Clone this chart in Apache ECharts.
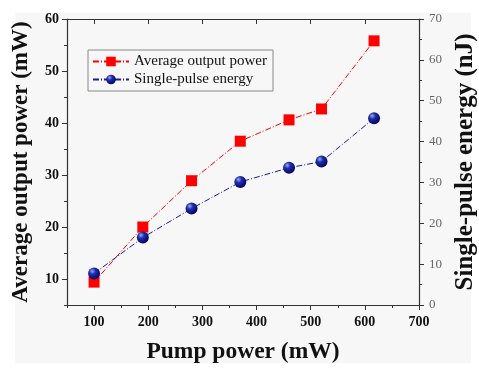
<!DOCTYPE html>
<html><head><meta charset="utf-8">
<script src="https://cdn.jsdelivr.net/npm/echarts@6/dist/echarts.min.js"></script>
<style>html,body{margin:0;padding:0;background:#fff}#c{width:479px;height:368px}</style>
</head><body><div id="c"></div>
<script>
const pumpPower = [100, 190, 280, 370, 460, 520, 617];
const avgPower = [9.4, 20.0, 28.9, 36.5, 40.6, 42.7, 55.8];
const pulseEnergy = [7.7, 16.5, 23.6, 30.1, 33.6, 35.1, 45.7];
const xTicks = [100, 200, 300, 400, 500, 600, 700];
const leftTicks = [10, 20, 30, 40, 50, 60];

const serif = 'Liberation Serif, Times New Roman, serif';
const chart = echarts.init(document.getElementById('c'), null, {renderer: 'canvas'});
const axisLine = {show: true, lineStyle: {color: '#333', width: 1.2}};
chart.setOption({
  backgroundColor: '#fff',
  animation: false,
  graphic: [{type: 'rect', z: -10, shape: {x: 15, y: 13, width: 456, height: 350}, style: {fill: '#f7f7f7'}}],
  grid: {left: 67, right: 60, top: 19, bottom: 63, show: false, containLabel: false, outerBoundsMode: 'none'},
  legend: {
    left: 88, top: 50, orient: 'vertical', itemGap: 3, itemWidth: 36, itemHeight: 12,
    padding: [4, 6, 4, 4], borderColor: '#888', borderWidth: 1, backgroundColor: '#f7f7f7',
    textStyle: {fontFamily: serif, fontSize: 15, color: '#111'},
    data: ['Average output power', 'Single-pulse energy']
  },
  xAxis: [
    {type: 'value', min: 50, max: 700, position: 'bottom', axisLine,
     splitLine: {show: false},
     axisTick: {show: true, customValues: xTicks, length: 5, lineStyle: {color: '#333'}},
     axisLabel: {customValues: xTicks, fontFamily: serif, fontWeight: 'bold', fontSize: 14, color: '#111', margin: 10},
     name: 'Pump power (mW)', nameLocation: 'middle', nameGap: 35,
     nameTextStyle: {fontFamily: serif, fontWeight: 'bold', fontSize: 23.5, color: '#111'}},
    {type: 'value', min: 50, max: 700, interval: 50, position: 'bottom', axisLine: {show: false},
     splitLine: {show: false}, axisTick: {show: true, length: 3, lineStyle: {color: '#333'}}, axisLabel: {show: false}},
    {type: 'value', min: 50, max: 700, position: 'top', axisLine,
     splitLine: {show: false},
     axisTick: {show: true, inside: true, customValues: xTicks, length: 5, lineStyle: {color: '#333'}},
     axisLabel: {show: false}}
  ],
  yAxis: [
    {type: 'value', min: 5, max: 60, position: 'left', axisLine,
     splitLine: {show: false},
     axisTick: {show: true, customValues: leftTicks, length: 5, lineStyle: {color: '#333'}},
     axisLabel: {customValues: leftTicks, fontFamily: serif, fontWeight: 'bold', fontSize: 14, color: '#111', margin: 8},
     name: 'Average output power (mW)', nameLocation: 'middle', nameGap: 34, nameRotate: 90,
     nameTextStyle: {fontFamily: serif, fontWeight: 'bold', fontSize: 23, color: '#111'}},
    {type: 'value', min: 0, max: 70, interval: 10, position: 'right', axisLine,
     splitLine: {show: false},
     axisTick: {show: true, length: 5, lineStyle: {color: '#333'}},
     minorTick: {show: true, splitNumber: 2, length: 3, lineStyle: {color: '#333'}},
     axisLabel: {fontFamily: serif, fontSize: 13, color: '#666', margin: 10},
     name: 'Single-pulse energy (nJ)', nameLocation: 'middle', nameGap: 28, nameRotate: 90,
     nameTextStyle: {fontFamily: serif, fontWeight: 'bold', fontSize: 25, color: '#111'}},
    {type: 'value', min: 5, max: 60, interval: 5, position: 'left', axisLine: {show: false},
     splitLine: {show: false}, axisTick: {show: true, length: 3, lineStyle: {color: '#333'}}, axisLabel: {show: false}}
  ],
  series: [
    {name: 'Average output power', type: 'line', xAxisIndex: 0, yAxisIndex: 0,
     data: pumpPower.map((x, i) => [x, avgPower[i]]),
     symbol: 'rect', symbolSize: 11,
     itemStyle: {color: '#f00'},
     lineStyle: {color: '#f00', width: 1, type: [6, 2, 1, 2]}},
    {name: 'Single-pulse energy', type: 'line', xAxisIndex: 0, yAxisIndex: 1,
     data: pumpPower.map((x, i) => [x, pulseEnergy[i]]),
     symbol: 'circle', symbolSize: 12,
     itemStyle: {color: {type: 'radial', x: 0.35, y: 0.3, r: 0.75,
       colorStops: [{offset: 0, color: '#9aa8ff'}, {offset: 0.35, color: '#1f2fa8'}, {offset: 1, color: '#00005e'}]}},
     lineStyle: {color: '#1a1aa0', width: 1, type: [6, 2, 1, 2]}}
  ]
});
</script></body></html>
